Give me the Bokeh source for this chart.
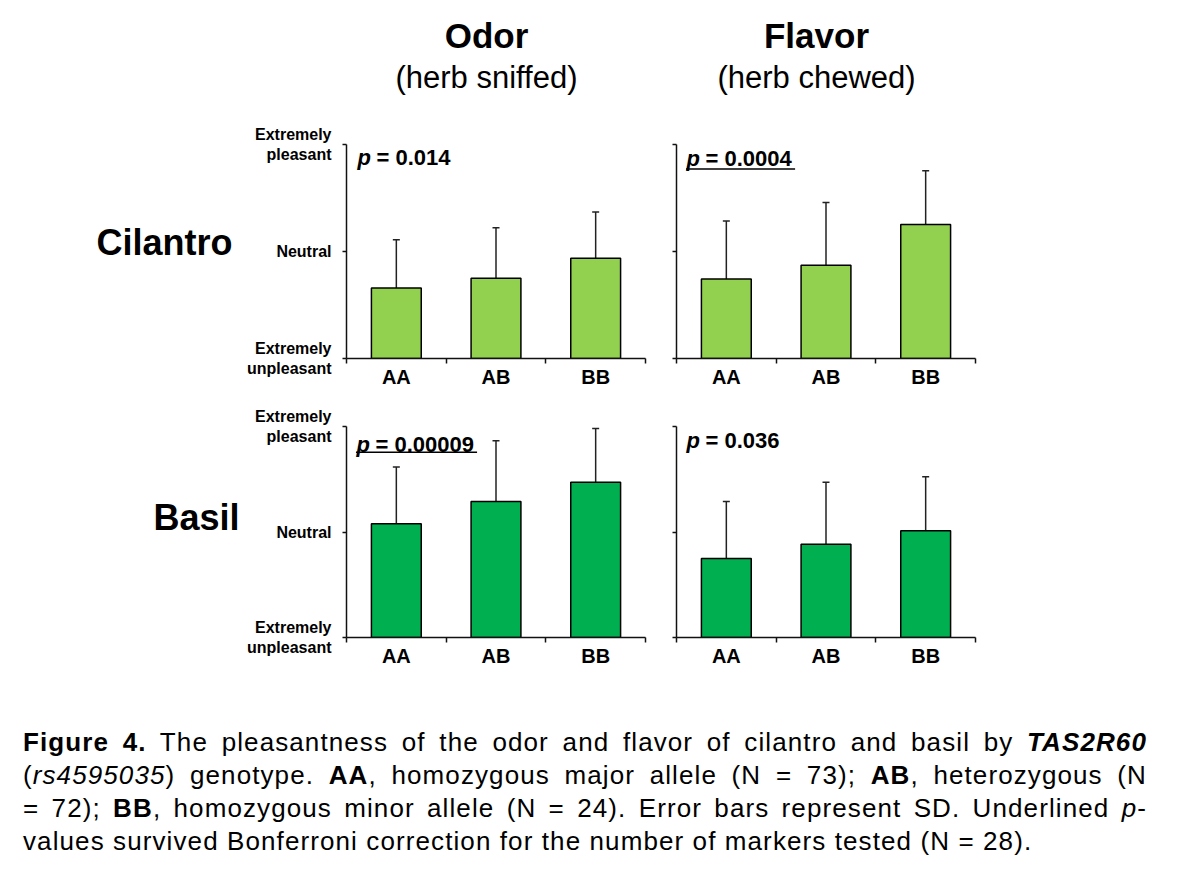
from bokeh.plotting import figure
from bokeh.models import (Range1d, LinearAxis, FixedTicker,
                          ColumnDataSource, Whisker, TeeHead, Div)
from bokeh.layouts import row, column
from bokeh.core.properties import value
from bokeh.embed import file_html
from bokeh.resources import INLINE

# ---------------- data (0 = extremely unpleasant, 50 = neutral, 100 = extremely pleasant)
genotypes = ["AA", "AB", "BB"]
y_ticks = [0, 50, 100]
y_tick_labels = ["Extremely\nunpleasant", "Neutral", "Extremely\npleasant"]

cilantro_odor_mean = [32.9, 37.5, 46.9]
cilantro_odor_sd = [22.6, 23.6, 21.5]
cilantro_flavor_mean = [37.2, 43.6, 62.6]
cilantro_flavor_sd = [27.0, 29.3, 25.1]
basil_odor_mean = [53.9, 64.4, 73.6]
basil_odor_sd = [26.9, 28.9, 25.5]
basil_flavor_mean = [37.5, 44.2, 50.6]
basil_flavor_sd = [27.0, 29.4, 25.6]

p_cilantro_odor = "0.014"
p_cilantro_flavor = "0.0004"
p_basil_odor = "0.00009"
p_basil_flavor = "0.036"

columns_titles = ["Odor", "Flavor"]
columns_subtitles = ["(herb sniffed)", "(herb chewed)"]
row_titles = ["Cilantro", "Basil"]

LIGHT = "#92D050"
DARK = "#00B050"
FONT = "Liberation Sans"

n_cat = len(genotypes)
cat_centers = [i + 0.5 for i in range(n_cat)]     # category slots on a 0..n axis
cat_edges = list(range(n_cat + 1))


def make_panel(means, sds, color, pval, underlined, show_labels, width, height,
               bl, br, bt, bb, ptext_xy, uline_x1, uline_y):
    src = ColumnDataSource(dict(x=cat_centers, g=genotypes, mean=means,
                                upper=[m + s for m, s in zip(means, sds)]))
    p = figure(width=width, height=height,
               x_range=Range1d(0, n_cat), y_range=Range1d(0, 100),
               x_axis_location=None,
               toolbar_location=None, output_backend="svg",
               min_border_left=bl, min_border_right=br,
               min_border_top=bt, min_border_bottom=bb)
    p.grid.visible = False
    p.outline_line_color = None
    p.background_fill_color = "white"
    p.border_fill_color = "white"

    # y axis
    yax = p.yaxis[0]
    yax.ticker = FixedTicker(ticks=y_ticks, minor_ticks=[])
    if show_labels:
        yax.major_label_overrides = {t: l for t, l in zip(y_ticks, y_tick_labels)}
    else:
        yax.major_label_overrides = {t: "" for t in y_ticks}
    yax.major_tick_out = 4
    yax.major_tick_in = 0
    yax.minor_tick_out = 0
    yax.minor_tick_in = 0
    yax.axis_line_width = 1.5
    yax.axis_line_color = "#111111"
    yax.major_tick_line_width = 1.5
    yax.major_tick_line_color = "#111111"
    yax.major_label_standoff = 11
    yax.major_label_text_font = FONT
    yax.major_label_text_font_style = "bold"
    yax.major_label_text_font_size = "16px"
    yax.major_label_text_color = "black"
    yax.major_label_text_line_height = 1.22

    # x axis: boundary ticks
    eax = LinearAxis(ticker=FixedTicker(ticks=cat_edges, minor_ticks=[]),
                     major_label_overrides={e: "" for e in cat_edges},
                     major_label_text_font_size="1px", major_label_standoff=0,
                     major_tick_out=5, major_tick_in=0, minor_tick_out=0, minor_tick_in=0,
                     axis_line_width=1.5, axis_line_color="#111111",
                     major_tick_line_width=1.5, major_tick_line_color="#111111")
    p.add_layout(eax, "below")
    # x axis: category labels
    cax = LinearAxis(ticker=FixedTicker(ticks=cat_centers, minor_ticks=[]),
                     major_label_overrides={c: g for c, g in zip(cat_centers, genotypes)},
                     axis_line_color=None, major_tick_line_color=None,
                     major_tick_out=0, major_tick_in=0, minor_tick_out=0, minor_tick_in=0,
                     major_label_standoff=2,
                     major_label_text_font=FONT,
                     major_label_text_font_style="bold",
                     major_label_text_font_size="20px",
                     major_label_text_color="black")
    p.add_layout(cax, "below")

    # bars
    p.vbar(x="x", top="mean", bottom=0, width=0.5, source=src,
           fill_color=color, line_color="black", line_width=1.5)
    # error bars (upper SD only)
    wh = Whisker(base="x", lower="mean", upper="upper", source=src,
                 lower_head=None,
                 upper_head=TeeHead(size=7, line_width=1.5, line_color="#222222"),
                 line_width=1.5, line_color="#222222")
    p.add_layout(wh)

    # p-value
    px, py = ptext_xy
    p.text(x=[px], y=[py], text=["p"],
           text_font=value(FONT), text_font_size="22px", text_font_style="bold italic",
           text_baseline="middle", text_align="left", text_color="black")
    p.text(x=[px], y=[py], text=["= " + pval], x_offset=19,
           text_font=value(FONT), text_font_size="22px", text_font_style="bold",
           text_baseline="middle", text_align="left", text_color="black")
    if underlined:
        p.segment(x0=[px - 0.005], y0=[uline_y], x1=[uline_x1], y1=[uline_y],
                  line_color="black", line_width=1.5)
    return p


# header
header = figure(width=1200, height=120, x_range=Range1d(0, 1200), y_range=Range1d(120, 0),
                x_axis_location=None, y_axis_location=None, toolbar_location=None,
                output_backend="svg", min_border=0)
header.grid.visible = False
header.outline_line_color = None
header.text(x=[486, 816], y=[35, 35], text=columns_titles, text_font=value(FONT),
            text_font_size="35px", text_font_style="bold", text_align="center",
            text_baseline="middle", text_color="black")
header.text(x=[486, 816], y=[77, 77], text=columns_subtitles, text_font=value(FONT),
            text_font_size="31px", text_align="center", text_baseline="middle",
            text_color="black")


def label_fig(label, top, bottom, xr, yc):
    f = figure(width=240, height=bottom - top, x_range=Range1d(0, 240),
               y_range=Range1d(bottom, top), x_axis_location=None, y_axis_location=None,
               toolbar_location=None, output_backend="svg", min_border=0)
    f.grid.visible = False
    f.outline_line_color = None
    f.text(x=[xr], y=[yc], text=[label], text_font=value(FONT), text_font_size="36px",
           text_font_style="bold", text_align="right", text_baseline="middle",
           text_color="black")
    return f


lab1 = label_fig(row_titles[0], 120, 400, 232, 248)
lab2 = label_fig(row_titles[1], 400, 690, 239, 525)

pA1 = make_panel(cilantro_odor_mean, cilantro_odor_sd, LIGHT, p_cilantro_odor, False, True,
                 420, 280, 106, 15, 24, 42, (0.11, 93.9), None, None)
pB1 = make_panel(cilantro_flavor_mean, cilantro_flavor_sd, LIGHT, p_cilantro_flavor, True, False,
                 540, 280, 16, 225, 24, 42, (0.10, 93.6), 1.19, 88.5)
pA2 = make_panel(basil_odor_mean, basil_odor_sd, DARK, p_basil_odor, True, True,
                 420, 290, 106, 15, 24, 53, (0.10, 91.7), 1.31, 87.8)
pB2 = make_panel(basil_flavor_mean, basil_flavor_sd, DARK, p_basil_flavor, False, False,
                 540, 290, 16, 225, 26, 51, (0.10, 93.4), None, None)

caption_lines = [
    '<b>Figure 4.</b> The pleasantness of the odor and flavor of cilantro and basil by <b><i>TAS2R60</i></b>',
    '(<i>rs4595035</i>) genotype. <b>AA</b>, homozygous major allele (N = 73); <b>AB</b>, heterozygous (N',
    '= 72); <b>BB</b>, homozygous minor allele (N = 24). Error bars represent SD. Underlined <i>p</i>-',
    'values survived Bonferroni correction for the number of markers tested (N = 28).',
]
html = '<div style="padding:31px 20px 0 18px;font-family:\'Liberation Sans\';font-size:26px;' \
       'line-height:33px;letter-spacing:1.1px;color:black;width:1162px;">'
for i, ln in enumerate(caption_lines):
    just = "text-align:justify;text-align-last:justify;" if i < 3 else "text-align:left;"
    html += '<div style="%s">%s</div>' % (just, ln)
html += '</div>'
caption = Div(text=html, width=1200, height=197)

layout = column(header, row(lab1, pA1, pB1), row(lab2, pA2, pB2), caption)

with open("out.html", "w") as fh:
    fh.write(file_html(layout, INLINE))
